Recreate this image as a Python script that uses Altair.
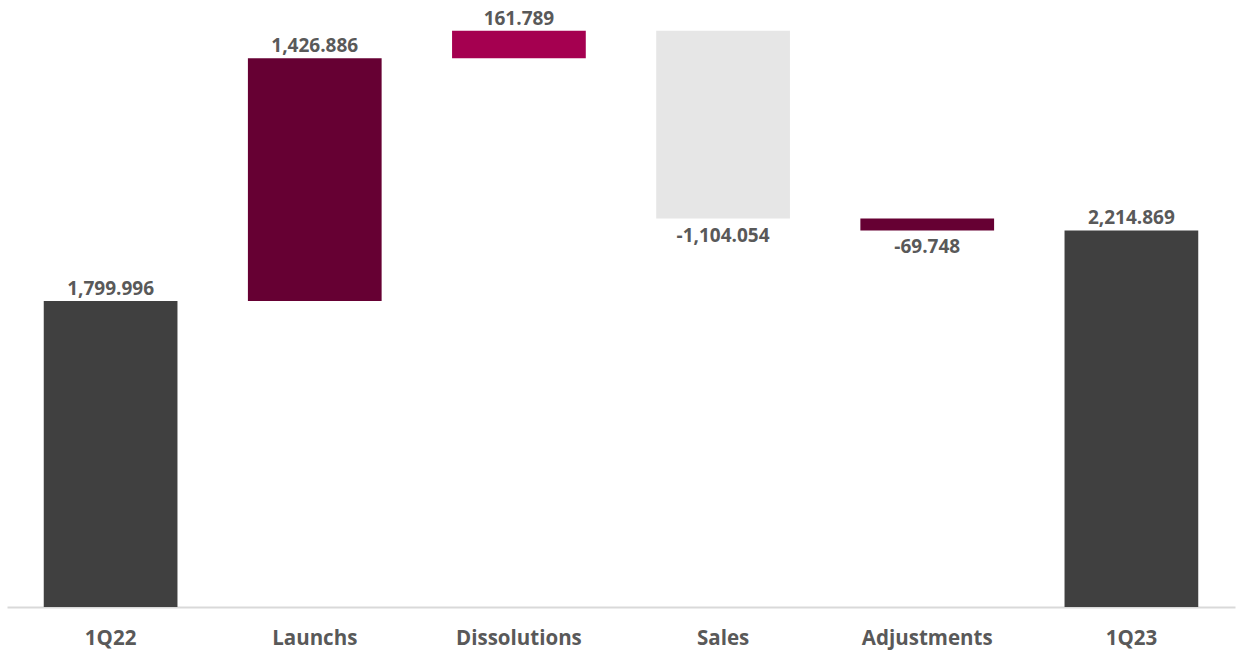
import altair as alt
import pandas as pd

categories = ["1Q22", "Launchs", "Dissolutions", "Sales", "Adjustments", "1Q23"]
values = [1799.996, 1426.886, 161.789, -1104.054, -69.748, 2214.869]
kinds = ["total", "step", "step", "step", "step", "total"]
colors = ["#404040", "#660033", "#A50050", "#E6E6E6", "#660033", "#404040"]

rows = []
running = 0.0
for c, v, k, col in zip(categories, values, kinds, colors):
    if k == "total":
        start, end = 0.0, v
        running = v
    else:
        start, end = running, running + v
        running = end
    rows.append({
        "cat": c,
        "start": start,
        "end": end,
        "top": max(start, end),
        "bottom": min(start, end),
        "value": v,
        "label": f"{v:,.3f}",
        "color": col,
        "sign": "pos" if v >= 0 else "neg",
    })
df = pd.DataFrame(rows)

FONT = "Open Sans"

x = alt.X("cat:N", sort=categories, title=None,
          scale=alt.Scale(paddingInner=0.345, paddingOuter=0.18),
          axis=alt.Axis(labelAngle=0, labelFont=FONT, labelFontSize=20.5,
                        labelFontWeight="bold", labelColor="#595959",
                        labelPadding=21, domainColor="#D9D9D9", domainWidth=2,
                        ticks=False))
yscale = alt.Scale(domain=[0, 3570], nice=False, zero=True)

base = alt.Chart(df)

bars = base.mark_bar().encode(
    x=x,
    y=alt.Y("start:Q", scale=yscale, axis=None),
    y2="end:Q",
    color=alt.Color("color:N", scale=None),
)

pos_text = base.transform_filter(alt.datum.sign == "pos").mark_text(
    font=FONT, fontSize=19, fontWeight="bold", color="#595959",
    baseline="middle", dy=-12,
).encode(
    x=alt.X("cat:N", sort=categories),
    y=alt.Y("top:Q", scale=yscale),
    text="label:N",
)

neg_text = base.transform_filter(alt.datum.sign == "neg").mark_text(
    font=FONT, fontSize=19, fontWeight="bold", color="#595959",
    baseline="middle", dy=17,
).encode(
    x=alt.X("cat:N", sort=categories),
    y=alt.Y("bottom:Q", scale=yscale),
    text="label:N",
)

chart = alt.layer(bars, pos_text, neg_text).properties(
    width=1228, height=607,
    autosize=alt.AutoSizeParams(type="none"),
    padding={"left": 7, "right": 7, "top": 0, "bottom": 43},
    background="white",
).configure_view(stroke=None)

chart.save("out.html", embed_options={"renderer": "svg", "actions": False})
